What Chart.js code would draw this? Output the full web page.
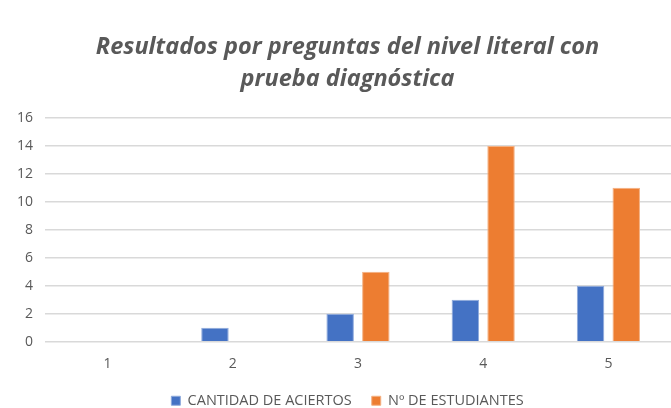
<!DOCTYPE html>
<html>
<head>
<meta charset="utf-8">
<script src="https://cdn.jsdelivr.net/npm/chart.js@4"></script>
<style>
  body { margin: 0; background: #fff; }
  #wrap { width: 671px; height: 408px; }
</style>
</head>
<body>
<div id="wrap"><canvas id="myChart"></canvas></div>
<script>
// data
const preguntas = ['1', '2', '3', '4', '5'];
const aciertos = [0, 1, 2, 3, 4];
const estudiantes = [0, 0, 5, 14, 11];
const yTicks = [0, 2, 4, 6, 8, 10, 12, 14, 16];

const textGray = '#595959';

// the left padding keeps title + legend centred like the original,
// so let the y labels draw into that padding instead of being clipped
const widenYLabels = {
  id: 'widenYLabels',
  afterLayout(chart) {
    chart.scales.y.left = 0;
  }
};

try {
const ctx = document.getElementById('myChart');

new Chart(ctx, {
  type: 'bar',
  data: {
    labels: preguntas,
    datasets: [{
      label: 'CANTIDAD DE ACIERTOS',
      data: aciertos,
      backgroundColor: '#4472C4',
      borderColor: '#8faadc',
      borderWidth: 1
    }, {
      label: 'Nº DE ESTUDIANTES',
      data: estudiantes,
      backgroundColor: '#ED7D31',
      borderColor: '#f4b183',
      borderWidth: 1
    }]
  },
  plugins: [widenYLabels],
  options: {
    responsive: true,
    maintainAspectRatio: false,
    animation: false,
    layout: { padding: { left: 24, right: 0, top: 31, bottom: -10 } },
    datasets: {
      bar: { categoryPercentage: 0.57, barPercentage: 0.77 }
    },
    plugins: {
      title: {
        display: true,
        text: ['Resultados por preguntas del nivel literal con', 'prueba diagnóstica'],
        color: textGray,
        font: { family: 'Open Sans', size: 23.5, style: 'italic', weight: 'bold', lineHeight: 1.36 },
        padding: { top: 0, bottom: 23 }
      },
      legend: {
        position: 'bottom',
        labels: {
          color: textGray,
          font: { family: 'Open Sans', size: 14.5 },
          boxWidth: 9,
          boxHeight: 9,
          padding: 20
        }
      },
      tooltip: { enabled: false }
    },
    scales: {
      x: {
        grid: { display: false, drawTicks: false },
        border: { display: false },
        afterFit: function(scale) { scale.height -= 13; },
        ticks: { color: textGray, font: { family: 'Open Sans', size: 14 }, padding: 14 }
      },
      y: {
        min: 0,
        max: 16,
        afterBuildTicks: function(scale) {
          scale.ticks = yTicks.map(v => ({ value: v }));
        },
        afterFit: function(scale) { scale.width = 21; },
        grid: { color: '#d9d9d9', lineWidth: 1.5, drawTicks: false },
        border: { display: false },
        ticks: { color: textGray, font: { family: 'Open Sans', size: 14 }, padding: 12 }
      }
    }
  }
});
} catch (error) {
  console.log(error);
}
</script>
</body>
</html>
